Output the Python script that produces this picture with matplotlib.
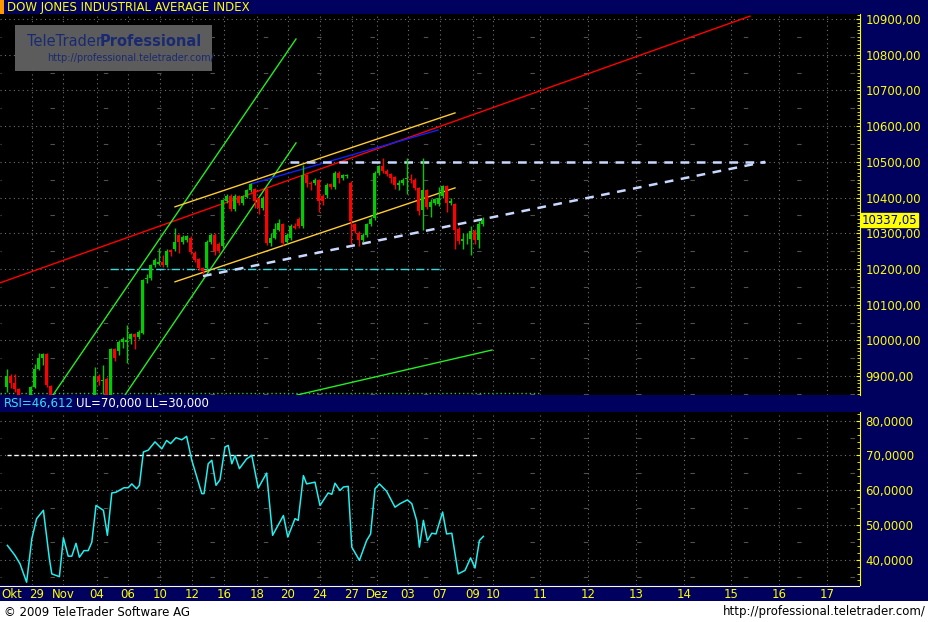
import numpy as np
import matplotlib
matplotlib.use("Agg")
import matplotlib.pyplot as plt
from matplotlib.patches import Rectangle

# candle slots (one slot = one hour bar)
slots = list(range(22, 120))
opens = [9840, 9901, 9885, 9892, 9845, 9976, 9969, 9996, 9996, 10004, 10018, 10010, 10022, 10172, 10175, 10211, 10215, 10220, 10211,
         10252, 10255, 10295, 10275, 10280, 10288, 10246, 10228, 10203, 10203, 10275, 10295, 10270, 10265, 10389, 10405, 10368, 10405,
         10385, 10402, 10420, 10424, 10398, 10370, 10424, 10273, 10287, 10310, 10326, 10275, 10287, 10320, 10340, 10320, 10463, 10440,
         10441, 10449, 10405, 10407, 10437,
         10430, 10470, 10455, 10460, 10441, 10325, 10300, 10280, 10295, 10325, 10343, 10468, 10487, 10473, 10466, 10457, 10435, 10441,
         10452, 10452, 10450, 10426, 10365, 10420, 10373, 10385, 10382, 10405, 10432, 10385, 10383, 10312, 10278, 10283, 10283, 10307,
         10280, 10325]
closes = [9901, 9886, 9888, 9845, 9976, 9950, 9996, 10004, 10000, 10018, 10010, 10024, 10169, 10175, 10211, 10225, 10220, 10211, 10250,
          10248, 10275, 10275, 10290, 10292, 10248, 10225, 10203, 10193, 10275, 10295, 10250, 10250, 10393, 10405, 10368, 10405, 10385,
          10403, 10420, 10437, 10389, 10370, 10400, 10273, 10287, 10313, 10330, 10273, 10295, 10320, 10316, 10320, 10463, 10441, 10437,
          10449, 10389, 10389, 10435, 10430,
          10470, 10455, 10463, 10462, 10333, 10305, 10280, 10295, 10325, 10340, 10470, 10487, 10475, 10467, 10455, 10435, 10441, 10450,
          10454, 10450, 10428, 10362, 10422, 10373, 10388, 10395, 10400, 10432, 10385, 10390, 10310, 10278, 10283, 10283, 10305, 10280,
          10325, 10337]
highs = [9925, 9905, 9930, 9898, 9980, 9980, 10000, 10010, 10043, 10020, 10022, 10030, 10172, 10185, 10215, 10230, 10258, 10240, 10255,
         10255, 10315, 10298, 10295, 10296, 10292, 10250, 10232, 10206, 10280, 10300, 10300, 10275, 10396, 10410, 10410, 10410, 10408,
         10408, 10425, 10440, 10428, 10402, 10405, 10428, 10300, 10330, 10340, 10330, 10300, 10325, 10330, 10345, 10490, 10466, 10445,
         10455, 10452, 10410, 10440, 10440,
         10475, 10475, 10467, 10466, 10445, 10330, 10305, 10300, 10330, 10345, 10474, 10492, 10510, 10480, 10470, 10460, 10450, 10455,
         10510, 10465, 10455, 10430, 10510, 10425, 10395, 10400, 10430, 10436, 10436, 10400, 10386, 10318, 10300, 10300, 10320, 10312,
         10335, 10345]
lows = [9835, 9875, 9850, 9840, 9840, 9942, 9960, 9980, 9938, 9990, 9975, 10005, 10018, 10160, 10170, 10205, 10210, 10205, 10205,
        10235, 10250, 10245, 10270, 10275, 10242, 10220, 10198, 10185, 10198, 10270, 10240, 10245, 10260, 10385, 10362, 10362, 10380,
        10380, 10398, 10415, 10370, 10355, 10365, 10268, 10265, 10283, 10305, 10268, 10270, 10282, 10312, 10315, 10316, 10430, 10420,
        10436, 10360, 10380, 10400, 10425,
        10425, 10440, 10450, 10455, 10270, 10300, 10265, 10275, 10290, 10320, 10338, 10462, 10470, 10460, 10440, 10425, 10420, 10436,
        10410, 10440, 10420, 10350, 10310, 10368, 10345, 10380, 10376, 10400, 10360, 10380, 10255, 10270, 10255, 10270, 10240, 10270,
        10260, 10320]

# early candles left of the gap
early_slots = [0, 1, 2, 3, 6, 7, 8, 9, 10, 11]
early_o = [9870, 9901, 9881, 9864, 9840, 9870, 9920, 9952, 9962, 9872]
early_c = [9901, 9882, 9864, 9848, 9870, 9920, 9952, 9962, 9875, 9845]
early_h = [9920, 9905, 9905, 9866, 9872, 9935, 9965, 9965, 9965, 9875]
early_l = [9856, 9868, 9855, 9840, 9838, 9868, 9918, 9930, 9870, 9840]

rsi_x = [0.1, 2.0, 3.25, 4.9, 6.2, 7.4, 9.1, 10.6, 11.2, 13.1, 14.1, 15.3, 16.2, 17.25, 18.1, 19.25, 20.3, 21.2, 22.25, 24.1, 25.1,
         26.2, 27.25, 29.25, 30.3, 31.2, 32.4, 33.1, 34.1, 35.3, 37.0, 38.7, 39.9, 40.9, 42.25, 43.7, 44.9, 46.2, 48.7, 49.25, 50.3,
         51.2, 52.25, 53.25, 54.5, 55.3, 56.2, 57.0, 58.1, 59.9, 61.2, 62.8, 64.9, 66.4, 69.1, 70.2, 72.0, 72.8, 74.1, 74.9, 77.0,
         78.25, 80.3, 81.2, 82.0, 83.25, 84.1, 85.3, 86.2, 88.1, 89.9, 90.9, 92.0, 93.1, 94.9, 97.0, 98.25, 100.1, 101.2, 102.4,
         103.1, 104.1, 105.1, 106.2, 107.25, 108.9, 109.9, 111.2, 112.8, 114.5, 115.9, 117.0, 118.1, 119.1]
rsi_y = [44.1, 41.2, 38.8, 33.5, 46.0, 51.8, 54.2, 40.2, 35.9, 35.1, 46.3, 41.0, 41.0, 44.7, 40.7, 42.6, 42.6, 45.0, 55.6, 54.2, 47.0,
         59.2, 59.4, 60.7, 60.7, 61.8, 60.4, 61.4, 71.0, 71.5, 73.9, 71.9, 74.3, 73.4, 75.1, 74.5, 75.5, 68.6, 59.0, 59.0, 67.6,
         68.6, 61.4, 63.0, 72.4, 72.9, 67.6, 70.0, 66.2, 69.0, 70.0, 60.6, 64.9, 47.0, 52.7, 46.5, 51.8, 51.3, 64.2, 61.8, 62.3,
         55.6, 59.2, 58.8, 62.0, 59.9, 60.9, 61.1, 43.6, 39.8, 45.5, 47.4, 60.4, 61.8, 59.7, 55.1, 56.1, 57.2, 56.1, 51.3,
         43.6, 51.3, 45.5, 47.6, 47.4, 53.7, 47.4, 47.6, 35.9, 36.9, 40.5, 37.6, 45.5, 46.7]

date_pos = [6.25, 14, 22.5, 30.25, 38.25, 46.25, 54.25, 62.5, 70.25, 78.25, 86.25, 92.5, 100.25, 108.25, 116.5, 121.5,
            133.25, 145.25, 157.25, 169.25, 181, 193, 205]
date_lbl = ["29", "Nov", "04", "06", "10", "12", "16", "18", "20", "24", "27", "Dez", "03", "07", "09", "10",
            "11", "12", "13", "14", "15", "16", "17"]

# drawn trend lines: (x0, y0, x1, y1)
red_line = (-1.75, 10161, 185.75, 10908)
green_steep1 = (11.5, 9847, 72.25, 10844)
green_steep2 = (29.5, 9847, 72.25, 10553)
yellow_up = (42, 10374, 112, 10637)
yellow_low = (42, 10164, 112, 10427)
blue_line = (61, 10438, 107.75, 10589)
tri_top = (70.75, 10500, 189.5, 10500)
tri_low = (49, 10180, 189.5, 10500)
cyan_h = (25.75, 10200, 109.75, 10200)
green_low = (72.5, 9847, 121.25, 9973)

NAVY = "#00005e"
YEL = "#ffff00"
W, H = 929, 622
fig = plt.figure(figsize=(W / 100, H / 100), dpi=100, facecolor=NAVY)


def fr(x0, y0, x1, y1):
    return [x0 / W, 1 - y1 / H, (x1 - x0) / W, (y1 - y0) / H]


XL = (-1.75, 213.25)

ax = fig.add_axes(fr(0, 14, 860, 395), facecolor="black")
ax.set_xlim(*XL)
ax.set_ylim(9847, 10914)
for a in ["top", "bottom", "left"]:
    ax.spines[a].set_visible(False)
ax.spines["right"].set_color(YEL)
ax.yaxis.tick_right()
ax.set_yticks(np.arange(9900, 10901, 100))
ax.set_yticklabels([f"{v:,.2f}".replace(",", "").replace(".", ",") for v in np.arange(9900, 10901, 100)],
                   color=YEL, fontsize=8.5)
ax.set_yticks(np.arange(9850, 10914, 10), minor=True)
ax.tick_params(axis="y", which="both", color=YEL, length=3, direction="in", pad=4)
ax.tick_params(axis="y", which="minor", length=2)
ax.set_xticks([])
for v in np.arange(9900, 10901, 100):
    ax.axhline(v, color="#707070", lw=0.8, ls=(0, (1, 3)), zorder=0)
for v in np.arange(9850, 10901, 100):
    ax.axhline(v, color="#505050", lw=0.8, ls=(3, (4, 44)), zorder=0)
for p in date_pos:
    ax.axvline(p, color="#707070", lw=0.8, ls=(0, (1, 3)), zorder=0)


def seg(a, l, **kw):
    a.plot([l[0], l[2]], [l[1], l[3]], **kw)


seg(ax, red_line, color="#ff0000", lw=1)
seg(ax, green_steep1, color="#22ee22", lw=1)
seg(ax, green_steep2, color="#22ee22", lw=1)
seg(ax, yellow_up, color="#ffcc33", lw=1)
seg(ax, yellow_low, color="#ffcc33", lw=1)
seg(ax, blue_line, color="#1020ff", lw=1)
seg(ax, green_low, color="#22ee22", lw=1)
seg(ax, cyan_h, color="#33dddd", lw=1, ls=(0, (6, 2, 1, 2)))
seg(ax, tri_top, color="#c8d8ff", lw=1.8, ls=(0, (3.5, 3)))
seg(ax, tri_low, color="#c8d8ff", lw=1.8, ls=(0, (3.5, 3)))
ax.plot([-1.75, 133.25], [9853, 9853], color="#33bb66", lw=1, ls=(0, (1, 2)))

all_s = early_slots + slots
all_o = early_o + opens
all_c = early_c + closes
all_h = early_h + highs
all_l = early_l + lows
for s, o, c, h, l in zip(all_s, all_o, all_c, all_h, all_l):
    col = "#00cc00" if c >= o else "#ff0000"
    ax.vlines(s, l, h, color=col, lw=1, zorder=3)
    ax.bar(s, max(abs(c - o), 2), bottom=min(o, c), width=0.75, color=col, zorder=4)

ax.text(213.6, all_c[-1], "10337,05", color="#0000aa", fontsize=8.5, va="center", ha="left",
        transform=ax.transData, clip_on=False,
        bbox=dict(boxstyle="square,pad=0.05", fc=YEL, ec=YEL))

# logo
fig.patches.append(Rectangle((15 / W, 1 - 71 / H), 197 / W, 46 / H, transform=fig.transFigure,
                             fc="#5c5c5c", ec="none", zorder=5))
fig.text(27 / W, 1 - 41 / H, "TeleTrader", color="#1a2a70", fontsize=10.5, va="center", zorder=6)
fig.text(100 / W, 1 - 41 / H, "Professional", color="#1a2a70", fontsize=10.5, weight="bold", va="center", zorder=6)
fig.text(47 / W, 1 - 58 / H, "http://professional.teletrader.com/", color="#1a2a70", fontsize=7, va="center", zorder=6)

# title bars
fig.patches.append(Rectangle((0, 1 - 14 / H), 4 / W, 14 / H, transform=fig.transFigure, fc="#ff9900", ec="none"))
fig.text(7 / W, 1 - 7 / H, "DOW JONES INDUSTRIAL AVERAGE INDEX", color=YEL, fontsize=8.5, va="center")
fig.text(4 / W, 1 - 404 / H, "RSI=46,612", color="#33ddff", fontsize=8.5, va="center")
fig.text(76 / W, 1 - 404 / H, "UL=70,000 LL=30,000", color="white", fontsize=8.5, va="center")

# RSI panel
ax2 = fig.add_axes(fr(0, 412, 860, 585), facecolor="black")
ax2.set_xlim(*XL)
ax2.set_ylim(32.7, 82.5)
for a in ["top", "bottom", "left"]:
    ax2.spines[a].set_visible(False)
ax2.spines["right"].set_color(YEL)
ax2.yaxis.tick_right()
ax2.set_yticks([40, 50, 60, 70, 80])
ax2.set_yticklabels(["40,0000", "50,0000", "60,0000", "70,0000", "80,0000"], color=YEL, fontsize=8.5)
ax2.set_yticks(np.arange(34, 82.5, 2), minor=True)
ax2.tick_params(axis="y", which="both", color=YEL, length=3, direction="in", pad=4)
ax2.tick_params(axis="y", which="minor", length=2)
ax2.set_xticks([])
for v in [40, 50, 60, 70, 80]:
    ax2.axhline(v, color="#707070", lw=0.8, ls=(0, (1, 3)), zorder=0)
for v in [35, 45, 55, 65, 75]:
    ax2.axhline(v, color="#505050", lw=0.8, ls=(3, (4, 44)), zorder=0)
for p in date_pos:
    ax2.axvline(p, color="#707070", lw=0.8, ls=(0, (1, 3)), zorder=0)
ax2.plot([0, 118], [70, 70], color="white", lw=1, ls=(0, (3, 2)))
ax2.plot(rsi_x, rsi_y, color="#22eeee", lw=1.1)

# date bar
axd = fig.add_axes(fr(0, 586, 860, 601), facecolor=NAVY)
axd.set_xlim(*XL)
axd.set_ylim(0, 1)
axd.axis("off")
axd.axhline(0.97, color="#ffffcc", lw=1.5)
axd.text(-1.5, 0.4, "Okt", color=YEL, fontsize=8.5, va="center", ha="left")
for p, t in zip(date_pos, date_lbl):
    x = p + 1.2 if t == "29" else p
    axd.text(x, 0.4, t, color=YEL, fontsize=8.5, va="center", ha="center")

# footer
fig.patches.append(Rectangle((0, 0), 1, 21 / H, transform=fig.transFigure, fc="white", ec="none"))
fig.text(4 / W, 10 / H, "© 2009 TeleTrader Software AG", color="black", fontsize=8.5, va="center")
fig.text(926 / W, 10 / H, "http://professional.teletrader.com/", color="black", fontsize=8.5, va="center", ha="right")

fig.savefig("out.png", dpi=100, facecolor=NAVY)
